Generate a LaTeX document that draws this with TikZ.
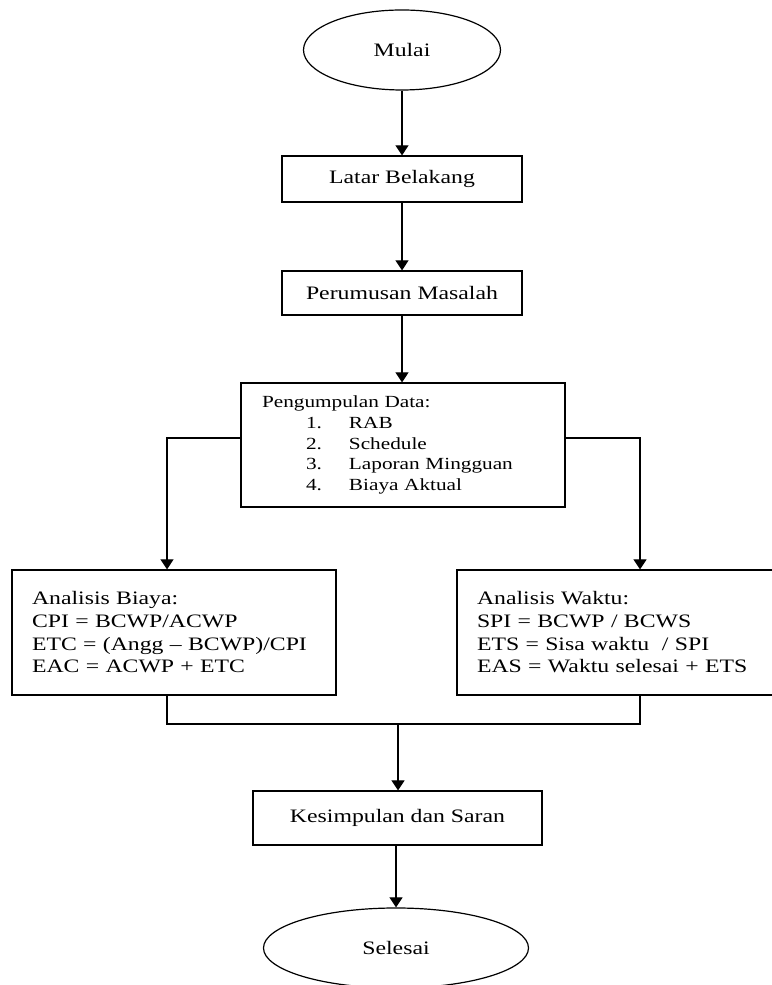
\documentclass[tikz,border=0pt]{standalone}
\usepackage{fontspec}
\setmainfont{Liberation Serif}[FakeStretch=1.25]
\usetikzlibrary{shapes.geometric, arrows.meta, calc}

\tikzset{
    process/.style={draw, rectangle, line width=1.2pt, inner sep=0pt,
        font=\fontsize{19}{22.7}\selectfont},
    terminal/.style={draw, ellipse, line width=1.2pt, inner sep=0pt,
        minimum height=80pt, font=\fontsize{19}{22.7}\selectfont},
    analysis/.style={process, minimum width=324pt, minimum height=125pt,
        text width=284pt, inner xsep=20pt, align=left},
    flow/.style={line width=1.2pt, -{Triangle[length=10pt, width=13pt]}},
    line/.style={line width=1.2pt}
}

\begin{document}
\begin{tikzpicture}[x=1pt, y=1pt]
    \useasboundingbox (0,0) rectangle (771,985);

    \node[terminal, minimum width=197pt] (mulai) at (402,935) {Mulai};
    \node[process, minimum width=240pt, minimum height=46pt] (latar) at (402,806)
        {Latar Belakang};
    \node[process, minimum width=240pt, minimum height=44pt] (rumusan) at (402,692)
        {Perumusan Masalah};

    \node[process, minimum width=324pt, minimum height=124pt, text width=282pt,
        inner xsep=21pt, align=left, font=\fontsize{17}{20.8}\selectfont]
        (data) at (403,540)
        {Pengumpulan Data:\\
         \hspace*{44pt}\makebox[43pt][l]{1.}RAB\\
         \hspace*{44pt}\makebox[43pt][l]{2.}Schedule\\
         \hspace*{44pt}\makebox[43pt][l]{3.}Laporan Mingguan\\
         \hspace*{44pt}\makebox[43pt][l]{4.}Biaya Aktual};

    \node[analysis] (biaya) at (174,352.5)
        {Analisis Biaya:\\
         CPI = BCWP/ACWP\\
         ETC = (Angg – BCWP)/CPI\\
         EAC = ACWP + ETC};
    \node[analysis] (waktu) at (619,352.5)
        {Analisis Waktu:\\
         SPI = BCWP / BCWS\\
         ETS = Sisa waktu~ / SPI\\
         EAS = Waktu selesai + ETS};

    \node[process, minimum width=289pt, minimum height=54pt] (simpulan) at (397.5,167)
        {Kesimpulan dan Saran};
    \node[terminal, minimum width=265pt] (selesai) at (396,37) {Selesai};

    \coordinate (kiri) at (167,547);
    \coordinate (kanan) at (640,547);
    \coordinate (gabung) at (398,261);

    \draw[flow] (mulai) -- (latar);
    \draw[flow] (latar) -- (rumusan);
    \draw[flow] (rumusan.south) -- (rumusan.south |- data.north);
    \draw[flow] (data.west |- kiri) -- (kiri) -- (kiri |- biaya.north);
    \draw[flow] (data.east |- kanan) -- (kanan) -- (kanan |- waktu.north);
    \draw[line] (kiri |- biaya.south) -- (kiri |- gabung)
        -- (kanan |- gabung) -- (kanan |- waktu.south);
    \draw[flow] (gabung) -- (simpulan.north -| gabung);
    \draw[flow] (simpulan.south -| selesai) -- (selesai);
\end{tikzpicture}
\end{document}
